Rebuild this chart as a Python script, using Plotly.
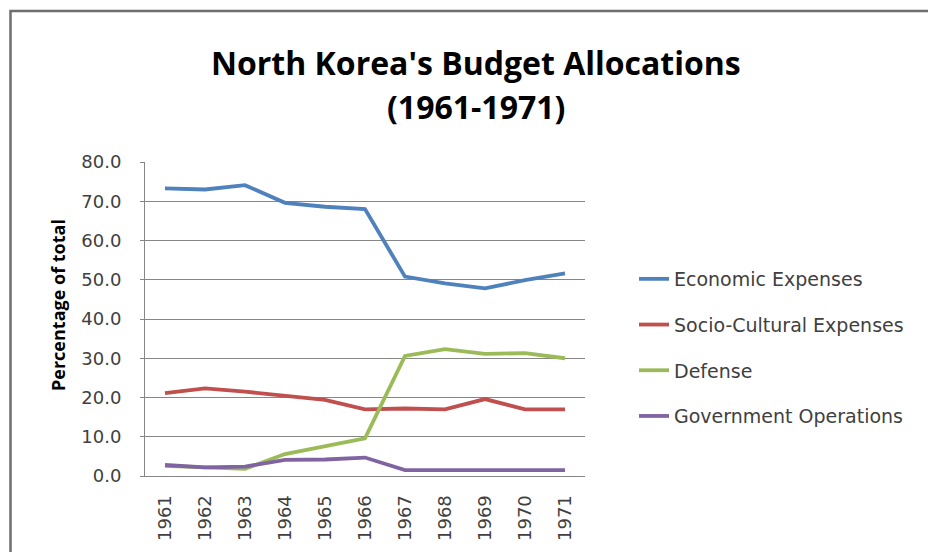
import plotly.graph_objects as go

years = ["1961", "1962", "1963", "1964", "1965", "1966", "1967", "1968", "1969", "1970", "1971"]
economic = [73.3, 73.0, 74.1, 69.6, 68.6, 68.0, 50.8, 49.1, 47.8, 49.9, 51.6]
socio_cultural = [21.1, 22.3, 21.5, 20.5, 19.4, 17.0, 17.2, 17.0, 19.6, 17.0, 17.0]
defense = [2.6, 2.1, 1.8, 5.6, 7.5, 9.6, 30.6, 32.3, 31.1, 31.3, 30.0]
government = [2.8, 2.2, 2.4, 4.1, 4.2, 4.7, 1.5, 1.5, 1.5, 1.5, 1.5]

series_names = ["Economic Expenses", "Socio-Cultural Expenses", "Defense", "Government Operations"]
series_values = [economic, socio_cultural, defense, government]
colors = ["#4F81BD", "#C0504D", "#9BBB59", "#8064A2"]

W, H = 928, 552
ML, MR, MT, MB = 145, 343, 162, 76
PW, PH = W - ML - MR, H - MT - MB

def px_x(p):
    return (p - ML) / PW

def px_y(p):
    return (H - MB - p) / PH

fig = go.Figure()
for name, vals, col in zip(series_names, series_values, colors):
    fig.add_trace(go.Scatter(
        x=years, y=vals, name=name, mode="lines",
        line=dict(color=col, width=3.8),
        legendgroup=name,
    ))

fig.update_layout(
    width=W, height=H,
    margin=dict(l=ML, r=MR, t=MT, b=MB, autoexpand=False),
    paper_bgcolor="white", plot_bgcolor="white",
    showlegend=True,
    legend=dict(
        x=px_x(634), xanchor="left",
        y=px_y(260), yanchor="top",
        font=dict(family="DejaVu Sans", size=19, color="#404040"),
        traceorder="grouped", tracegroupgap=18,
        bgcolor="rgba(0,0,0,0)", itemwidth=30,
    ),
    xaxis=dict(
        type="category", tickangle=-90, range=[-0.5, 10.5],
        tickfont=dict(family="DejaVu Sans", size=18, color="#404040"),
        showline=True, linecolor="#868686", linewidth=1,
        ticks="", showgrid=False, ticklabelstandoff=11, automargin=False,
    ),
    yaxis=dict(
        range=[0, 80], dtick=10, tickformat=".1f",
        tickfont=dict(family="DejaVu Sans", size=18, color="#404040"),
        showline=True, linecolor="#868686", linewidth=1,
        ticks="outside", ticklen=4, tickcolor="#868686",
        showgrid=True, gridcolor="#868686", gridwidth=1,
        ticklabelstandoff=15, zeroline=False, automargin=False,
    ),
    annotations=[
        dict(text="<b>North Korea's Budget Allocations</b>", x=px_x(476), y=px_y(62),
             xref="paper", yref="paper", showarrow=False, xanchor="center", yanchor="middle",
             font=dict(family="Open Sans", size=32, color="black")),
        dict(text="<b>(1961-1971)</b>", x=px_x(476), y=px_y(106),
             xref="paper", yref="paper", showarrow=False, xanchor="center", yanchor="middle",
             font=dict(family="Open Sans", size=32, color="black")),
        dict(text="<b>Percentage of total</b>", x=px_x(58), y=px_y(305),
             xref="paper", yref="paper", showarrow=False, xanchor="center", yanchor="middle",
             textangle=-90, font=dict(family="Open Sans", size=18, color="black")),
    ],
    shapes=[
        dict(type="rect", xref="paper", yref="paper",
             x0=px_x(10.5), x1=px_x(940), y0=px_y(570), y1=px_y(11),
             line=dict(color="#6E6E6E", width=2.5), layer="below"),
    ],
)

fig.write_html("out.html")
